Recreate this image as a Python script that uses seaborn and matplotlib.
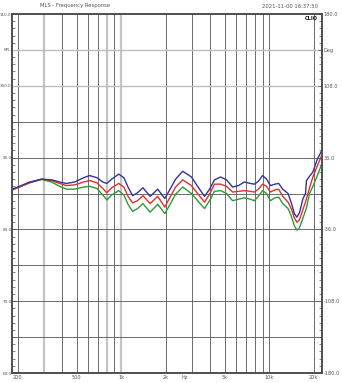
import matplotlib
matplotlib.use("Agg")
import matplotlib.pyplot as plt
from matplotlib.ticker import MultipleLocator, NullFormatter
import numpy as np
import pandas as pd
import seaborn as sns

freq = [183, 200, 241, 290, 339, 384, 427, 485, 558, 612, 685, 751, 800, 863, 963,
        1042, 1112, 1194, 1289, 1402, 1567, 1765, 1970, 2125, 2330, 2604, 2980, 3280,
        3653, 3950, 4264, 4690, 5145, 5650, 6190, 6790, 7450, 7930, 8440, 9010, 9580,
        10190, 10900, 11580, 12330, 13390, 14130, 14770, 15360, 15970, 16900, 17560,
        17840, 18700, 19700, 20950, 22600]

blue = [85.6, 85.9, 86.6, 87.0, 86.9, 86.6, 86.4, 86.6, 87.2, 87.5, 87.2, 86.6, 86.4, 87.0, 87.7,
        87.2, 85.9, 84.7, 85.1, 85.8, 84.6, 85.6, 84.3, 85.5, 87.0, 88.1, 87.3, 86.0,
        84.6, 85.6, 86.9, 87.3, 86.9, 85.9, 86.1, 86.6, 86.4, 86.3, 86.7, 87.5, 87.0,
        86.1, 86.3, 86.4, 85.6, 85.0, 83.6, 82.2, 81.7, 82.3, 84.3, 85.0,
        86.8, 87.4, 88.0, 89.6, 91.0]

red = [85.5, 85.8, 86.5, 87.0, 86.8, 86.4, 86.1, 86.2, 86.6, 86.8, 86.5, 85.7, 85.1, 85.8, 86.4,
       85.9, 84.6, 83.7, 84.0, 84.7, 83.6, 84.6, 83.1, 84.4, 85.9, 86.9, 86.1, 85.0,
       83.8, 84.9, 86.3, 86.3, 86.0, 85.2, 85.3, 85.4, 85.3, 85.2, 85.6, 86.3, 86.0,
       85.2, 85.5, 85.6, 84.6, 83.8, 82.8, 81.6, 81.0, 81.3, 82.8, 83.8,
       84.3, 85.8, 87.3, 88.7, 90.3]

green = [85.5, 85.8, 86.5, 86.95, 86.6, 86.0, 85.6, 85.6, 85.9, 86.0, 85.7, 84.8, 84.1, 84.8, 85.4,
         84.8, 83.5, 82.5, 82.9, 83.6, 82.4, 83.5, 82.2, 83.4, 84.9, 85.9, 85.0, 84.0,
         82.9, 84.0, 85.3, 85.4, 85.0, 84.0, 84.2, 84.4, 84.2, 84.0, 84.6, 85.4, 85.0,
         84.0, 84.4, 84.5, 83.6, 82.9, 81.8, 80.5, 79.9, 80.2, 81.6, 82.6,
         83.0, 85.0, 86.0, 87.3, 89.1]

series_names = ["blue", "red", "green"]
series_colors = ["#34349c", "#e0302c", "#2e9a3a"]

dark_grid_x = [200, 400, 500, 600, 700, 900, 2000, 3000, 4000, 5000, 6000, 7000, 8000, 9000, 10000, 20000]
light_grid_x = [300, 800, 1000]
dark_grid_y = [65, 70, 75, 80, 85, 90, 95]
light_grid_y = [100, 105]

x_tick_pos = [200, 500, 1000, 2000, 2700, 5000, 10000, 20000]
x_tick_lab = ["200", "500", "1k", "2k", "Hz", "5k", "10k", "20k"]
y_tick_pos = [60, 70, 80, 90, 100, 105, 110]
y_left_lab = ["60.0", "70.0", "80.0", "90.0", "100.0", "SPL", "110.0"]
y_right_lab = ["-180.0", "-108.0", "-36.0", "36.0", "108.0", "Deg", "180.0"]

frames = []
for name, vals in zip(series_names, [blue, red, green]):
    frames.append(pd.DataFrame({"freq": freq, "db": vals, "series": name}))
df = pd.concat(frames, ignore_index=True)

sns.set_style("white")
plt.rcParams["font.family"] = ["DejaVu Sans"]

fig = plt.figure(figsize=(3.42, 3.83), dpi=100)
ax = fig.add_axes([12 / 342, (383 - 373) / 383, 310 / 342, 359 / 383])

for xv in dark_grid_x:
    ax.axvline(xv, color="#555555", lw=0.6, zorder=1)
for xv in light_grid_x:
    ax.axvline(xv, color="#c4c4c4", lw=1.6, zorder=1)
for yv in dark_grid_y:
    ax.axhline(yv, color="#555555", lw=0.6, zorder=1)
for yv in light_grid_y:
    ax.axhline(yv, color="#bdbdbd", lw=1.0, zorder=1)

sns.lineplot(data=df, x="freq", y="db", hue="series", hue_order=["green", "red", "blue"],
             palette={n: c for n, c in zip(series_names, series_colors)},
             lw=1.0, legend=False, ax=ax, sort=False, zorder=3)
for ln in ax.get_lines()[-3:]:
    ln.set_solid_joinstyle("round")
    ln.set_solid_capstyle("round")

ax.set_xscale("log")
ax.set_xlim(183, 22700)
ax.set_ylim(60, 110)
ax.set_xlabel("")
ax.set_ylabel("")

ax.set_xticks(x_tick_pos)
ax.set_xticklabels(x_tick_lab)
ax.xaxis.set_minor_formatter(NullFormatter())
ax.tick_params(axis="x", which="both", length=0, pad=1.5, labelsize=3.6, labelcolor="#555555")

ax.set_yticks(y_tick_pos)
ax.set_yticklabels(y_left_lab)
ax.yaxis.set_minor_locator(MultipleLocator(1))
ax.tick_params(axis="y", which="major", direction="in", length=3, width=0.5, color="#555555",
               pad=0.4, labelsize=3.0, labelcolor="#555555")
ax.tick_params(axis="y", which="minor", direction="in", length=2.5, width=0.5, color="#555555")

ax2 = ax.twinx()
ax2.set_ylim(60, 110)
ax2.set_yticks(y_tick_pos)
ax2.set_yticklabels(y_right_lab)
ax2.yaxis.set_minor_locator(MultipleLocator(1))
ax2.tick_params(axis="y", which="major", direction="in", length=3, width=0.5, color="#555555",
                pad=1.0, labelsize=3.6, labelcolor="#555555")
ax2.tick_params(axis="y", which="minor", direction="in", length=2.5, width=0.5, color="#555555")

for a in (ax, ax2):
    for s in a.spines.values():
        s.set_color("#4a4a4a")
        s.set_linewidth(1.1)
        s.set_visible(True)

fig.text(75 / 342, 1 - 6 / 383, "MLS - Frequency Response", fontsize=3.8, color="#555555",
         ha="center", va="center")
fig.text(318 / 342, 1 - 6 / 383, "2021-11-00 16:37:50", fontsize=3.8, color="#555555",
         ha="right", va="center")
fig.text(318 / 342, 1 - 18 / 383, "CLIO", fontsize=3.6, color="#111111", fontweight="bold",
         ha="right", va="center")

fig.savefig("out.png", dpi=100, facecolor="white")
